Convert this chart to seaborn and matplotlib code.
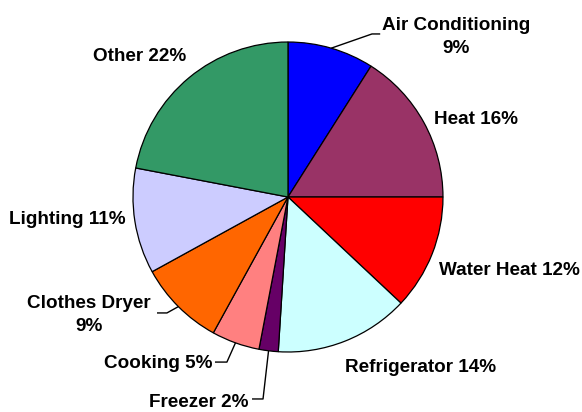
import numpy as np
import matplotlib
matplotlib.use("Agg")
import matplotlib.pyplot as plt
import seaborn as sns

# home energy use by end use, clockwise from 12 o'clock
categories = ["Air Conditioning", "Heat", "Water Heat", "Refrigerator", "Freezer",
              "Cooking", "Clothes Dryer", "Lighting", "Other"]
shares = [9, 16, 12, 14, 2, 5, 9, 11, 22]
slice_colors = ["#0000FF", "#993366", "#FF0000", "#CCFFFF", "#660066",
                "#FF8080", "#FF6600", "#CCCCFF", "#339966"]
label_texts = ["Air Conditioning\n9%", "Heat 16%", "Water Heat 12%", "Refrigerator 14%",
               "Freezer 2%", "Cooking 5%", "Clothes Dryer\n9%", "Lighting 11%", "Other 22%"]

sns.set_theme(style="white")
plt.rcParams["font.family"] = ["Liberation Sans", "DejaVu Sans"]

fig = plt.figure(figsize=(5.82, 4.12), dpi=100)
ax = fig.add_axes([0, 0, 1, 1])

palette = sns.color_palette(slice_colors)
wedges, _ = ax.pie(shares, colors=palette, startangle=90, counterclock=False,
                   radius=1.0, center=(0, 0), frame=True,
                   wedgeprops=dict(edgecolor="black", linewidth=0.9))
ax.set_xlim(-1.858, 1.897)
ax.set_ylim(-1.387, 1.271)
ax.axis("off")

# label placement (layout only): text pos, alignment, leader elbow / end or None
layout = {
    "Air Conditioning": ((1.084, 1.035), "center", (0.542, 1.052), (0.595, 1.052)),
    "Heat": ((1.21, 0.503), "center", None, None),
    "Water Heat": ((1.432, -0.471), "center", None, None),
    "Refrigerator": ((0.858, -1.103), "center", None, None),
    "Freezer": ((-0.255, -1.323), "right", (-0.161, -1.303), (-0.232, -1.303)),
    "Cooking": ((-0.49, -1.077), "right", (-0.394, -1.065), (-0.471, -1.065)),
    "Clothes Dryer": ((-1.284, -0.761), "center", (-0.781, -0.748), (-0.845, -0.748)),
    "Lighting": ((-1.426, -0.142), "center", None, None),
    "Other": ((-0.958, 0.906), "center", None, None),
}

for w, cat, txt in zip(wedges, categories, label_texts):
    pos, ha, elbow, end = layout[cat]
    ax.text(pos[0], pos[1], txt, ha=ha, va="center", fontsize=13.6,
            fontweight="bold", color="black", linespacing=1.45,
            multialignment="center")
    if elbow is not None:
        mid = np.deg2rad((w.theta1 + w.theta2) / 2)
        rim = (np.cos(mid), np.sin(mid))
        ax.plot([rim[0], elbow[0], end[0]], [rim[1], elbow[1], end[1]],
                color="black", linewidth=1.0, solid_capstyle="butt")

fig.savefig("out.png", dpi=100)
plt.close(fig)
